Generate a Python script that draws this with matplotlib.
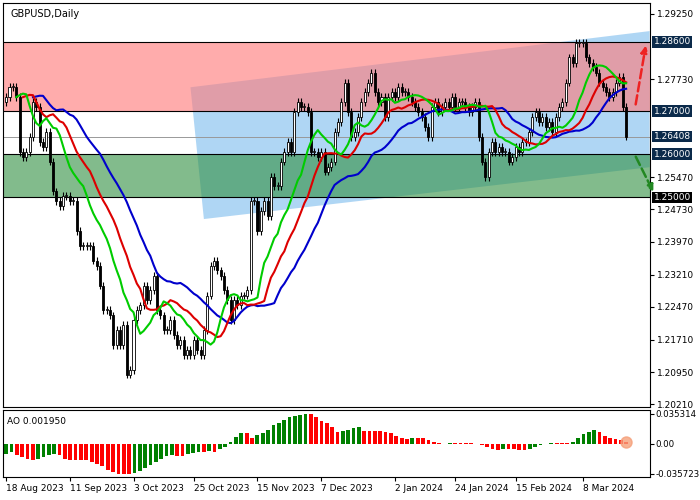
import numpy as np
import pandas as pd
import matplotlib
matplotlib.use("Agg")
import matplotlib.pyplot as plt
from matplotlib.patches import Polygon, Rectangle

closes = [1.2732,1.2755,1.2755,1.2732,1.2606,1.2594,1.2606,1.2640,1.2721,1.2709,1.2629,1.2617,1.2652,1.2583,1.2514,1.2491,1.2480,1.2503,1.2503,1.2491,1.2491,1.2422,1.2388,1.2388,1.2388,1.2388,1.2354,1.2342,1.2296,1.2239,1.2239,1.2227,1.2159,1.2193,1.2159,1.2204,1.2090,1.2101,1.2216,1.2239,1.2250,1.2296,1.2262,1.2285,1.2319,1.2239,1.2227,1.2193,1.2193,1.2216,1.2181,1.2159,1.2170,1.2136,1.2147,1.2136,1.2170,1.2147,1.2136,1.2193,1.2273,1.2342,1.2354,1.2331,1.2319,1.2285,1.2262,1.2216,1.2262,1.2250,1.2273,1.2273,1.2285,1.2491,1.2491,1.2422,1.2468,1.2491,1.2457,1.2548,1.2526,1.2526,1.2583,1.2606,1.2629,1.2606,1.2698,1.2721,1.2709,1.2709,1.2698,1.2606,1.2606,1.2594,1.2606,1.2560,1.2571,1.2583,1.2652,1.2675,1.2721,1.2766,1.2698,1.2640,1.2652,1.2686,1.2721,1.2744,1.2766,1.2789,1.2744,1.2721,1.2732,1.2686,1.2732,1.2744,1.2732,1.2755,1.2744,1.2744,1.2732,1.2721,1.2709,1.2698,1.2686,1.2663,1.2640,1.2709,1.2721,1.2698,1.2709,1.2721,1.2709,1.2732,1.2709,1.2721,1.2721,1.2709,1.2698,1.2709,1.2721,1.2640,1.2583,1.2548,1.2606,1.2629,1.2606,1.2617,1.2606,1.2606,1.2583,1.2594,1.2617,1.2606,1.2629,1.2629,1.2652,1.2686,1.2698,1.2675,1.2686,1.2663,1.2675,1.2652,1.2686,1.2709,1.2721,1.2766,1.2824,1.2812,1.2858,1.2858,1.2858,1.2824,1.2812,1.2801,1.2789,1.2766,1.2755,1.2744,1.2732,1.2744,1.2766,1.2778,1.2709,1.2641]
first_open = 1.2720
wick = 0.0009

ao_milli = [-12,-10,-14,-16,-18,-20,-18,-16,-14,-12,-14,-18,-20,-20,-20,-20,-22,-24,-27,-31,-34,-36,-36,-36,-35,-33,-29,-25,-22,-18,-15,-14,-15,-15,-12,-11,-10,-10,-9,-10,-7,-4,2,8,12,12,7,10,12,16,22,24,28,31,32,34,35,35,31,27,24,20,14,15,16,18,20,15,15,15,15,14,12,9,6,5,6,6,6,4,2,1,-1,1,1,1,1,1,-1,-2,-4,-6,-8,-6,-6,-7,-8,-8,-6,-4,-2,-1,1,1,1,1,2,6,11,14,16,13,9,7,5,4,2]

tick_idx = [0,19,38,56,75,94,116,134,152,172]
tick_lbl = ["18 Aug 2023","11 Sep 2023","3 Oct 2023","25 Oct 2023","15 Nov 2023","7 Dec 2023","2 Jan 2024","24 Jan 2024","15 Feb 2024","8 Mar 2024"]
price_ticks = [1.29250,1.27730,1.25470,1.24730,1.23970,1.23210,1.22470,1.21710,1.20950,1.20210]
levels = [1.2860,1.2700,1.2600,1.2500]
last_price = 1.26408

plt.rcParams['font.family'] = ['DejaVu Sans']
fig = plt.figure(figsize=(7,5), dpi=100)
ax = fig.add_axes([0.004,0.186,0.924,0.808])
ax2 = fig.add_axes([0.004,0.046,0.924,0.134])

c = np.array(closes)
n = len(c)
o = np.concatenate([[first_open], c[:-1]])
h = np.maximum(o,c)+wick
l = np.minimum(o,c)-wick
x = np.arange(n)
xmax = n+6

# zones
poly = Polygon([[55,1.2755],[xmax,1.2885],[xmax,1.2570],[59,1.2450]],closed=True,
               facecolor='#8ec5f0',alpha=0.7,lw=0,zorder=0)
ax.add_patch(poly)
ax.axhspan(1.2700,1.2860,color='#ff7a7a',alpha=0.62,lw=0,zorder=1)
ax.axhspan(1.2500,1.2600,color='#2f8f3f',alpha=0.6,lw=0,zorder=1)
for lv in levels:
    ax.axhline(lv,color='black',lw=0.8,zorder=2)
ax.axhline(last_price,color='#999999',lw=0.7,zorder=2)

# candles
for i in range(n):
    up = c[i] >= o[i]
    ax.vlines(x[i],l[i],h[i],color='black',lw=0.8,zorder=3)
    ax.add_patch(Rectangle((x[i]-0.3,min(o[i],c[i])),0.6,max(abs(c[i]-o[i]),0.0002),
                 facecolor='white' if up else 'black',edgecolor='black',lw=0.6,zorder=4))

s = pd.Series(c)
def smma(p,shift):
    return s.ewm(alpha=1/p,adjust=False).mean().shift(shift)
ax.plot(x,smma(13,8),color='#0000cc',lw=1.5,zorder=5)
ax.plot(x,smma(8,5),color='#dd0000',lw=1.5,zorder=5)
ax.plot(x,smma(5,3),color='#00cc00',lw=1.5,zorder=5)

# arrows
ax.annotate('',xy=(191,1.2858),xytext=(187.7,1.2709),annotation_clip=False,
            arrowprops=dict(arrowstyle='-|>',color='#ee2222',lw=1.8,ls='--',mutation_scale=10),zorder=6)
ax.annotate('',xy=(193.5,1.2507),xytext=(187.5,1.2600),annotation_clip=False,
            arrowprops=dict(arrowstyle='-|>',color='#228822',lw=1.8,ls='--',mutation_scale=10),zorder=6)

ax.set_xlim(-1,xmax)
ax.set_ylim(1.2015,1.2950)
ax.yaxis.tick_right()
ax.set_yticks(price_ticks)
ax.set_yticklabels([f"{v:.5f}" for v in price_ticks],fontsize=6.5)
ax.set_xticks([])
ax.tick_params(axis='y',length=3,pad=2)
for lv,bg in [(1.2860,'#0b2a4a'),(1.2700,'#0b2a4a'),(last_price,'#0b2a4a'),(1.2600,'#0b2a4a'),(1.2500,'black')]:
    ax.text(xmax+1.2,lv,f"{lv:.5f}",fontsize=6.5,color='white',va='center',ha='left',
            bbox=dict(boxstyle='square,pad=0.15',fc=bg,ec='none'),clip_on=False)
ax.text(0.012,0.985,"GBPUSD,Daily",transform=ax.transAxes,fontsize=7,va='top')

# AO
ao = np.array(ao_milli)*1e-3
xa = np.linspace(0,n-1,len(ao))
cols = ['#008000' if i==0 or ao[i]>ao[i-1] else '#ff0000' for i in range(len(ao))]
ax2.bar(xa,ao,width=(n/len(ao))*0.7,color=cols)
ax2.plot([xa[-1]],[ao[-1]],'o',color='#f5a07a',ms=8,alpha=0.8)
ax2.set_xlim(-1,xmax)
ax2.set_ylim(-0.0395,0.0395)
ax2.yaxis.tick_right()
ax2.set_yticks([0.035314,0.0,-0.035723])
ax2.set_yticklabels(["0.035314","0.00","-0.035723"],fontsize=6.2)
ax2.tick_params(axis='y',length=3,pad=1)
ax2.set_xticks(tick_idx)
ax2.set_xticklabels(tick_lbl,fontsize=6.5,ha='left')
ax2.tick_params(axis='x',length=3,pad=2)
ax2.text(0.006,0.9,"AO 0.001950",transform=ax2.transAxes,fontsize=6.5,va='top')
fig.savefig("out.png")
